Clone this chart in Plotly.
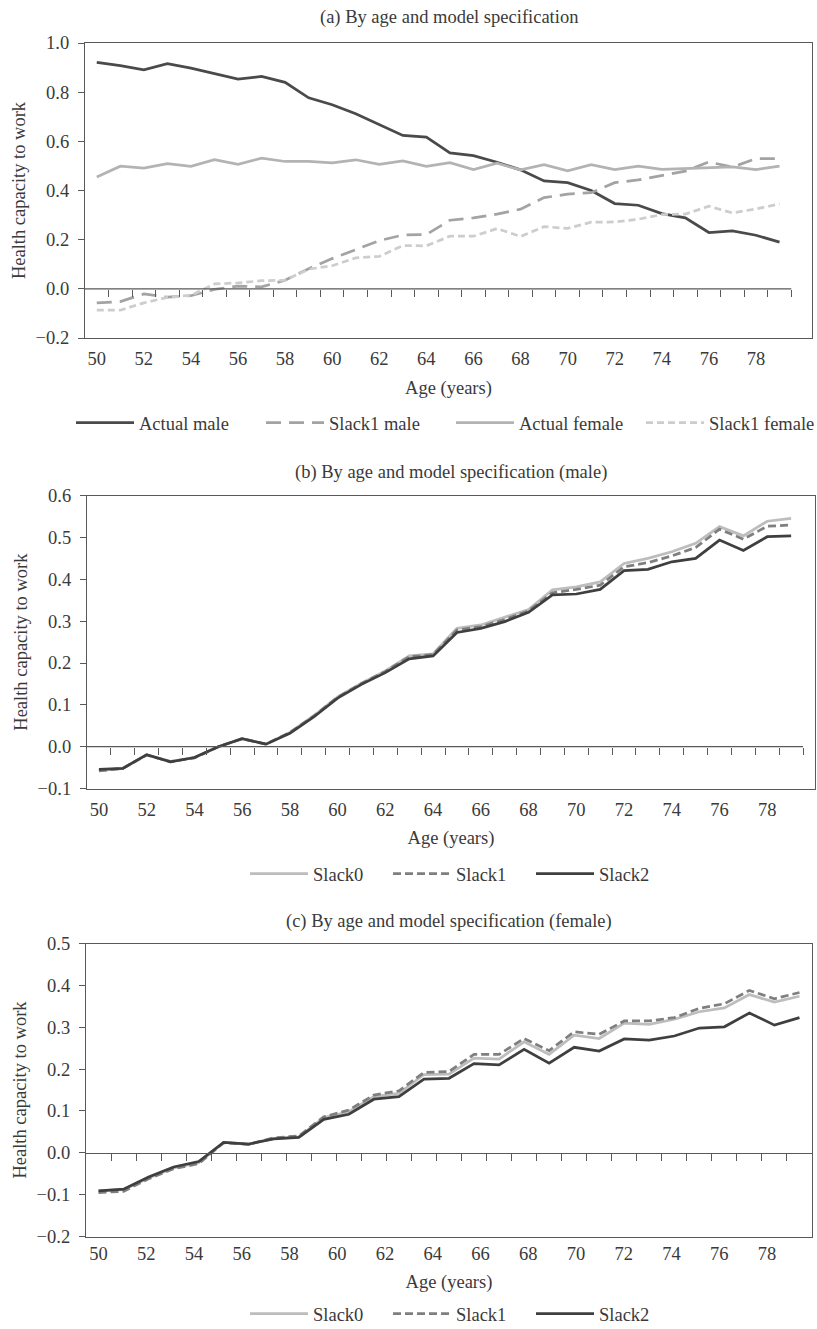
import plotly.graph_objects as go

# ---------------- data ----------------
ages = list(range(50, 80))          # panels (a) and (b)
ages_c = list(range(50, 79))        # panel (c)
tick_ages = list(range(50, 80, 2))

actual_male = [0.921, 0.908, 0.891, 0.916, 0.898, 0.875, 0.853, 0.864, 0.840, 0.777,
               0.749, 0.712, 0.669, 0.624, 0.617, 0.553, 0.542, 0.515, 0.484, 0.439,
               0.432, 0.400, 0.347, 0.340, 0.306, 0.289, 0.229, 0.236, 0.218, 0.190]
slack1_male = [-0.057, -0.052, -0.021, -0.034, -0.028, -0.002, 0.011, 0.008, 0.035, 0.082,
               0.123, 0.161, 0.196, 0.219, 0.221, 0.279, 0.289, 0.304, 0.324, 0.371,
               0.385, 0.391, 0.432, 0.443, 0.460, 0.479, 0.516, 0.495, 0.530, 0.530]
actual_female = [0.455, 0.499, 0.491, 0.509, 0.498, 0.525, 0.506, 0.532, 0.518, 0.518,
                 0.512, 0.525, 0.506, 0.520, 0.498, 0.513, 0.485, 0.511, 0.484, 0.505,
                 0.480, 0.505, 0.485, 0.499, 0.486, 0.490, 0.493, 0.496, 0.485, 0.499]
slack1_female = [-0.087, -0.087, -0.057, -0.035, -0.026, 0.020, 0.024, 0.033, 0.035, 0.080,
                 0.094, 0.126, 0.132, 0.176, 0.175, 0.214, 0.214, 0.245, 0.213, 0.253,
                 0.246, 0.271, 0.272, 0.283, 0.302, 0.304, 0.336, 0.309, 0.325, 0.345]

b_slack0 = [-0.057, -0.052, -0.020, -0.035, -0.026, 0.000, 0.019, 0.006, 0.034, 0.074,
            0.119, 0.152, 0.181, 0.217, 0.222, 0.283, 0.291, 0.309, 0.328, 0.375,
            0.382, 0.394, 0.438, 0.450, 0.466, 0.486, 0.526, 0.504, 0.539, 0.546]
b_slack1 = [-0.058, -0.052, -0.020, -0.036, -0.027, 0.000, 0.019, 0.006, 0.034, 0.073,
            0.118, 0.151, 0.180, 0.215, 0.220, 0.279, 0.287, 0.304, 0.325, 0.368,
            0.376, 0.386, 0.430, 0.440, 0.456, 0.476, 0.520, 0.496, 0.527, 0.530]
b_slack2 = [-0.054, -0.052, -0.019, -0.036, -0.026, 0.000, 0.019, 0.006, 0.032, 0.071,
            0.116, 0.149, 0.177, 0.210, 0.217, 0.273, 0.283, 0.299, 0.321, 0.363,
            0.365, 0.376, 0.421, 0.424, 0.442, 0.450, 0.494, 0.469, 0.502, 0.504]

c_slack0 = [-0.091, -0.088, -0.060, -0.036, -0.024, 0.025, 0.021, 0.034, 0.038, 0.084,
            0.098, 0.134, 0.142, 0.187, 0.188, 0.226, 0.224, 0.265, 0.235, 0.281,
            0.273, 0.310, 0.307, 0.319, 0.337, 0.346, 0.378, 0.360, 0.374]
c_slack1 = [-0.095, -0.092, -0.062, -0.038, -0.026, 0.024, 0.020, 0.036, 0.040, 0.086,
            0.102, 0.138, 0.148, 0.192, 0.194, 0.235, 0.235, 0.273, 0.244, 0.289,
            0.283, 0.315, 0.315, 0.323, 0.345, 0.356, 0.388, 0.368, 0.383]
c_slack2 = [-0.091, -0.087, -0.058, -0.034, -0.021, 0.025, 0.021, 0.033, 0.037, 0.080,
            0.092, 0.128, 0.134, 0.176, 0.178, 0.213, 0.210, 0.247, 0.214, 0.252,
            0.243, 0.272, 0.269, 0.279, 0.298, 0.301, 0.334, 0.305, 0.323]

titles = ["(a) By age and model specification",
          "(b) By age and model specification (male)",
          "(c) By age and model specification (female)"]
x_title = "Age (years)"
y_title = "Health capacity to work"

# ---------------- layout helpers ----------------
W, H = 817, 1329
FONT = "Liberation Serif"
FS = 18.5
TXT = "#3a3a3a"
AX = "#595959"
LW = 2.75


def fx(p):
    return p / W


def fy(p):
    return 1 - p / H


def tfont():
    return dict(family=FONT, size=FS, color=TXT)


# plot frames in pixels: left, right, top, bottom
frames = {"a": (85, 812, 43, 338), "b": (87, 815, 495.7, 788.5), "c": (86, 812, 943.5, 1236.5)}
yranges = {"a": (-0.2, 1.0, 0.2), "b": (-0.1, 0.6, 0.1), "c": (-0.2, 0.5, 0.1)}
label_ranges = {"a": (49.5, 80.38), "b": (49.5, 80.0), "c": (49.48, 79.88)}


def zero_pos(key):
    l, r, t, b = frames[key]
    y0, y1, _ = yranges[key]
    d0, d1 = fy(b), fy(t)
    return d0 + (0 - y0) / (y1 - y0) * (d1 - d0)


fig = go.Figure()

# panel (a)
fig.add_trace(go.Scatter(x=ages, y=actual_male, mode="lines", name="Actual male",
                         line=dict(color="#4a4a4a", width=LW), xaxis="x", yaxis="y", legend="legend"))
fig.add_trace(go.Scatter(x=ages, y=slack1_male, mode="lines", name="Slack1 male",
                         line=dict(color="#a3a3a3", width=LW, dash="15px,8px"), xaxis="x", yaxis="y", legend="legend"))
fig.add_trace(go.Scatter(x=ages, y=actual_female, mode="lines", name="Actual female",
                         line=dict(color="#b3b3b3", width=LW), xaxis="x", yaxis="y", legend="legend"))
fig.add_trace(go.Scatter(x=ages, y=slack1_female, mode="lines", name="Slack1 female",
                         line=dict(color="#cdcdcd", width=LW, dash="7px,4px"), xaxis="x", yaxis="y", legend="legend"))

# panel (b)
fig.add_trace(go.Scatter(x=ages, y=b_slack0, mode="lines", name="Slack0",
                         line=dict(color="#bdbdbd", width=LW), xaxis="x2", yaxis="y2", legend="legend2"))
fig.add_trace(go.Scatter(x=ages, y=b_slack1, mode="lines", name="Slack1",
                         line=dict(color="#7f7f7f", width=LW, dash="8px,4px"), xaxis="x2", yaxis="y2", legend="legend2"))
fig.add_trace(go.Scatter(x=ages, y=b_slack2, mode="lines", name="Slack2",
                         line=dict(color="#3f3f3f", width=LW), xaxis="x2", yaxis="y2", legend="legend2"))

# panel (c): 29 categories over the full frame width
fig.add_trace(go.Scatter(x=ages_c, y=c_slack0, mode="lines", name="Slack0",
                         line=dict(color="#bdbdbd", width=LW), xaxis="x3", yaxis="y3", legend="legend3"))
fig.add_trace(go.Scatter(x=ages_c, y=c_slack1, mode="lines", name="Slack1",
                         line=dict(color="#7f7f7f", width=LW, dash="8px,4px"), xaxis="x3", yaxis="y3", legend="legend3"))
fig.add_trace(go.Scatter(x=ages_c, y=c_slack2, mode="lines", name="Slack2",
                         line=dict(color="#3f3f3f", width=LW), xaxis="x3", yaxis="y3", legend="legend3"))

# empty carrier traces so that the helper axes (zero-line ticks, labels) are drawn
for xa, ya in [("x4", "y"), ("x5", "y2"), ("x6", "y3"), ("x7", "y3")]:
    fig.add_trace(go.Scatter(x=[], y=[], mode="lines", xaxis=xa, yaxis=ya,
                             showlegend=False, hoverinfo="skip"))

layout = dict(
    width=W, height=H, margin=dict(l=0, r=0, t=0, b=0, autoexpand=False),
    paper_bgcolor="white", plot_bgcolor="white",
    font=tfont(), showlegend=True,
)

for i, key in enumerate(["a", "b", "c"], start=1):
    l, r, t, b = frames[key]
    y0, y1, dt = yranges[key]
    sx = "" if i == 1 else str(i)
    xa = dict(
        domain=[fx(l), fx(r)], anchor="y" + sx,
        showline=True, mirror=True, linecolor=AX, linewidth=1.25,
        showgrid=False, zeroline=False, ticks="",
    )
    if key == "c":
        xa.update(range=[ages_c[0] - 0.5, ages_c[-1] + 0.5], showticklabels=False)
    else:
        xa.update(range=list(label_ranges[key]), tickvals=tick_ages,
                  ticktext=[str(a) for a in tick_ages], ticklabelstandoff=4, tickfont=tfont(),
                  title=dict(text=x_title, standoff=12, font=tfont()))
    layout["xaxis" + sx] = xa
    layout["yaxis" + sx] = dict(
        domain=[fy(b), fy(t)], anchor="x" + sx, range=[y0, y1], dtick=dt, tick0=0,
        tickformat=".1f", ticks="outside", ticklen=6, tickcolor=AX, tickwidth=1.25,
        showline=True, mirror=True, linecolor=AX, linewidth=1.25,
        showgrid=False, zeroline=False, ticklabelstandoff=5, tickfont=tfont(),
        title=dict(text=y_title, standoff=5, font=tfont()),
    )

# zero-line tick axes for (a) and (b)
for ov, base, key, xs in [("xaxis4", "x", "a", ages), ("xaxis5", "x2", "b", ages)]:
    layout[ov] = dict(
        overlaying=base, anchor="free", position=zero_pos(key), range=list(label_ranges[key]),
        tickvals=[a + 0.5 for a in xs], ticks="outside", ticklen=7, tickcolor=AX, tickwidth=1.25,
        showticklabels=False, showline=False, showgrid=False, zeroline=False,
    )
# panel (c): label axis at the bottom and zero axis with ticks
l, r, t, b = frames["c"]
layout["xaxis6"] = dict(
    overlaying="x3", anchor="free", position=fy(b), range=list(label_ranges["c"]),
    tickvals=tick_ages, ticktext=[str(a) for a in tick_ages], ticks="", ticklabelstandoff=4,
    tickfont=tfont(), showline=False, showgrid=False, zeroline=False,
    title=dict(text=x_title, standoff=12, font=tfont()),
)
layout["xaxis7"] = dict(
    overlaying="x3", anchor="free", position=zero_pos("c"),
    range=[ages_c[0] - 0.5, ages_c[-1] + 0.5],
    tickvals=[a + 0.5 for a in ages_c], ticks="outside", ticklen=7, tickcolor=AX, tickwidth=1.25,
    showticklabels=False, showline=True, linecolor=AX, linewidth=1.25,
    showgrid=False, zeroline=False,
)

# legends
leg_common = dict(orientation="h", xanchor="left", yanchor="middle", itemwidth=58,
                  entrywidthmode="pixels", font=tfont(), bgcolor="rgba(0,0,0,0)",
                  tracegroupgap=0, itemclick=False, itemdoubleclick=False)
layout["legend"] = dict(leg_common, x=fx(71), y=fy(423), entrywidth=117)
layout["legend2"] = dict(leg_common, x=fx(245), y=fy(874), entrywidth=70)
layout["legend3"] = dict(leg_common, x=fx(245), y=fy(1314), entrywidth=70)

fig.update_layout(**layout)

# zero lines for (a) and (b), spanning the category band
for xr, yr, xs in [("x", "y", ages), ("x2", "y2", ages)]:
    fig.add_shape(type="line", xref=xr, yref=yr, x0=xs[0] - 0.5, x1=xs[-1] + 0.5, y0=0, y1=0,
                  line=dict(color=AX, width=1.25))

# panel titles
title_y = {"a": 17, "b": 472, "c": 921}
for key, txt in zip(["a", "b", "c"], titles):
    l, r, t, b = frames[key]
    fig.add_annotation(text=txt, x=fx((l + r) / 2), y=fy(title_y[key]), xref="paper", yref="paper",
                       showarrow=False, xanchor="center", yanchor="middle", font=tfont())

fig.write_html("out.html", config={"displayModeBar": False},
               post_script="document.body.style.margin='0';")
